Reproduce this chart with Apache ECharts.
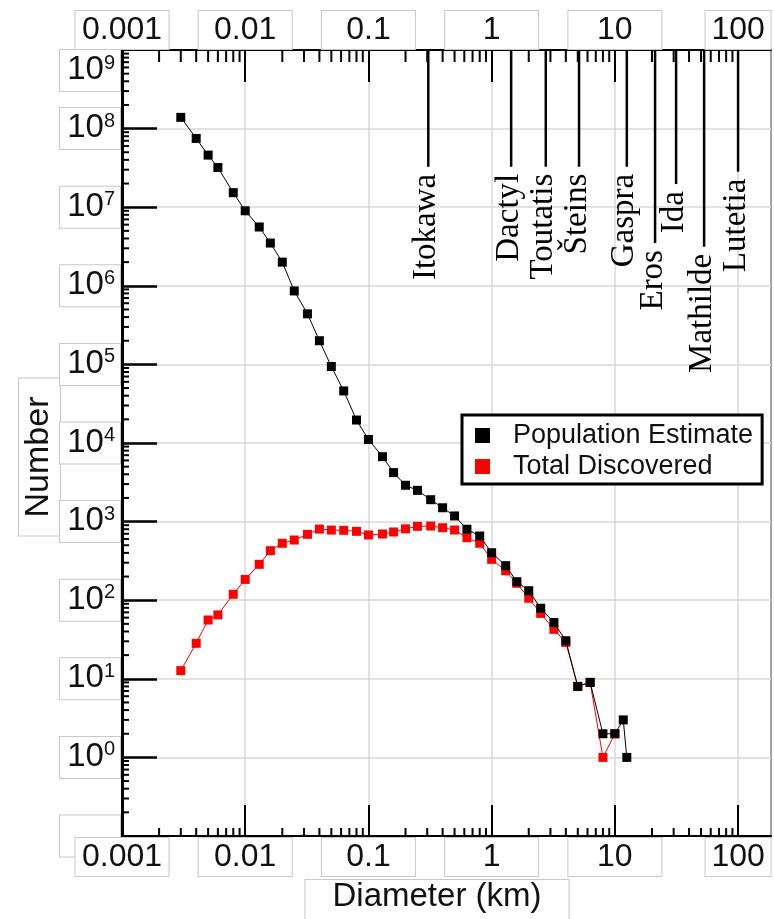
<!DOCTYPE html>
<html>
<head>
<meta charset="utf-8">
<script src="https://cdn.jsdelivr.net/npm/echarts@6/dist/echarts.min.js"></script>
<style>
html,body{margin:0;padding:0;background:#fff;}
#chart{width:774px;height:919px;}
</style>
</head>
<body>
<div id="chart"></div>
<script>
// ---- data ----
const popDiameters = [0.003, 0.004, 0.005, 0.006, 0.008, 0.01, 0.013, 0.016, 0.02, 0.025, 0.032, 0.04, 0.05, 0.063, 0.08, 0.1, 0.13, 0.16, 0.2, 0.25, 0.32, 0.4, 0.5, 0.63, 0.8, 1.0, 1.3, 1.6, 2.0, 2.5, 3.2, 4.0, 5.0, 6.3, 8.0, 10, 11.7, 12.5];
const populationEstimate = [1.39e8, 7.5e7, 4.6e7, 3.2e7, 1.53e7, 9.0e6, 5.6e6, 3.5e6, 2.0e6, 8.6e5, 4.4e5, 2.0e5, 9.4e4, 4.6e4, 1.96e4, 1.11e4, 6.7e3, 4.2e3, 2.9e3, 2.5e3, 1.9e3, 1.5e3, 1.18e3, 800, 656, 402, 275, 172, 132, 79, 52, 30.5, 8, 9, 2, 2, 3, 1];
const discDiameters = [0.003, 0.004, 0.005, 0.006, 0.008, 0.01, 0.013, 0.016, 0.02, 0.025, 0.032, 0.04, 0.05, 0.063, 0.08, 0.1, 0.13, 0.16, 0.2, 0.25, 0.32, 0.4, 0.5, 0.63, 0.8, 1.0, 1.3, 1.6, 2.0, 2.5, 3.2, 4.0, 5.0, 6.3, 8.0, 10];
const totalDiscovered = [12.7, 28.3, 56, 65, 119, 184, 286, 427, 530, 583, 689, 803, 780, 775, 752, 676, 695, 738, 809, 871, 879, 836, 782, 624, 530, 331, 237, 164, 106, 68, 42.6, 29, 8, 9, 1, 2];

const asteroidNames = ['Itokawa', 'Dactyl', 'Toutatis', 'Šteins', 'Gaspra', 'Eros', 'Ida', 'Mathilde', 'Lutetia'];
const asteroidDiameters = [0.306, 1.44, 2.75, 5.12, 12.5, 21.2, 31.4, 53, 100];
const asteroidLineEnd = [3.27e7, 3.27e7, 3.27e7, 3.27e7, 3.27e7, 3.5e6, 1.97e7, 3.14e6, 2.83e7];

const xTickLabels = ['0.001', '0.01', '0.1', '1', '10', '100'];
const yTickExponents = ['', '0', '1', '2', '3', '4', '5', '6', '7', '8', '9']; // 10^-1 .. 10^9
const minorMultipliers = [2, 3, 4, 5, 6, 7, 8, 9];

const X_MIN = 0.001, X_MAX = 185, Y_MIN = 0.1, Y_MAX = 1e9;
const SANS = '"Liberation Sans", Arial, sans-serif';
const SERIF = '"Liberation Serif", "Times New Roman", serif';
const BOXC = '#c8c8c8';

const chart = echarts.init(document.getElementById('chart'), null, {renderer: 'canvas'});

const xBox = {
  fontSize: 32, fontFamily: SANS, color: '#111', lineHeight: 34,
  backgroundColor: '#fff', borderColor: BOXC, borderWidth: 1,
  padding: [3, 14, 3, 14], align: 'center'
};
const xRich = {
  w: Object.assign({}, xBox, {width: 65}),
  n: Object.assign({}, xBox, {width: 37})
};
function xFmt(v) {
  const i = Math.round(Math.log10(v)) + 3;
  const t = xTickLabels[i];
  if (t === undefined) return '';
  return (i === 5 ? '{n|' : '{w|') + t + '}';
}
const yRich = {
  b: {fontSize: 33, fontFamily: SANS, color: '#111', lineHeight: 34},
  s: {fontSize: 20, fontFamily: SANS, color: '#111', lineHeight: 22, verticalAlign: 'top'}
};
const yLabelBox = {
  margin: 2, width: 49, padding: [3, 5, 4, 6], align: 'right',
  backgroundColor: '#fff', borderColor: BOXC, borderWidth: 1, rich: yRich
};
function yFmt(v) {
  const e = Math.round(Math.log10(v));
  const s = yTickExponents[e + 1];
  if (s === undefined) return '';
  if (s === '') return '{b| }';
  return '{b|10}{s|' + s + '}';
}

const option = {
  animation: false,
  backgroundColor: '#fff',
  grid: [
    {left: 122, right: 3, top: 50, bottom: 83, show: true, borderColor: '#000', borderWidth: 2,
      backgroundColor: 'transparent', outerBoundsMode: 'none', containLabel: false},
    {left: 122, right: 22, top: 78, bottom: 83, show: false, outerBoundsMode: 'none', containLabel: false}
  ],
  legend: {
    orient: 'vertical', left: 462, top: 415,
    icon: 'rect', itemWidth: 15, itemHeight: 15, itemGap: 4,
    padding: [7, 9, 4, 13],
    backgroundColor: '#fff', borderColor: '#000', borderWidth: 3,
    data: ['Population Estimate', 'Total Discovered'],
    formatter: n => '{t|' + n + '}',
    textStyle: {rich: {t: {fontSize: 27, fontFamily: SANS, color: '#111', lineHeight: 30, padding: [0, 0, 0, 18]}}}
  },
  xAxis: [
    {
      type: 'log', gridIndex: 0, position: 'bottom', min: X_MIN, max: X_MAX, z: 2,
      axisLine: {show: true, lineStyle: {color: '#000', width: 2}},
      axisTick: {show: true, inside: true, length: 31, lineStyle: {color: '#000', width: 2}},
      axisLabel: {margin: 4, showMaxLabel: false, formatter: xFmt, rich: xRich},
      splitLine: {show: true, lineStyle: {color: '#d9d9d9', width: 1.5}}
    },
    {
      type: 'log', gridIndex: 0, position: 'top', min: X_MIN, max: X_MAX, z: 2,
      axisLine: {show: true, lineStyle: {color: '#000', width: 2}},
      axisTick: {show: true, inside: true, length: 32, lineStyle: {color: '#000', width: 2}},
      axisLabel: {margin: 3, showMaxLabel: false, formatter: xFmt, rich: xRich},
      splitLine: {show: false}
    },
    {
      type: 'value', gridIndex: 1, position: 'bottom', min: 0, max: 1, z: 1,
      axisLine: {show: false}, axisTick: {show: false}, axisLabel: {show: false}, splitLine: {show: false},
      name: 'Diameter (km)', nameLocation: 'middle', nameGap: 44, nameMoveOverlap: false,
      nameTextStyle: {fontSize: 33, fontFamily: SANS, color: '#111', lineHeight: 34,
        backgroundColor: '#fff', borderColor: BOXC, borderWidth: 1, padding: [0, 27, 44, 27]}
    }
  ],
  yAxis: [
    {
      type: 'log', gridIndex: 0, position: 'left', min: Y_MIN, max: Y_MAX, z: 2,
      axisLine: {show: true, lineStyle: {color: '#000', width: 3}},
      axisTick: {show: true, inside: true, length: 35, lineStyle: {color: '#000', width: 2.5}},
      axisLabel: Object.assign({showMaxLabel: false, showMinLabel: true, formatter: yFmt}, yLabelBox),
      splitLine: {show: true, lineStyle: {color: '#d9d9d9', width: 1.5}}
    },
    {
      type: 'value', gridIndex: 1, position: 'left', min: 0, max: 1, z: 1,
      axisLine: {show: false}, axisTick: {show: false}, axisLabel: {show: false}, splitLine: {show: false},
      name: 'Number', nameLocation: 'middle', nameRotate: 90, nameGap: 62, nameMoveOverlap: false,
      nameTextStyle: {fontSize: 34, fontFamily: SANS, color: '#111', lineHeight: 34,
        backgroundColor: '#fff', borderColor: BOXC, borderWidth: 1, padding: [3, 18, 4, 18]}
    },
    {
      type: 'log', gridIndex: 0, position: 'left', min: 1e8, max: Y_MAX, z: 2,
      axisLine: {show: false}, axisTick: {show: false}, splitLine: {show: false},
      axisLabel: Object.assign({showMinLabel: false, showMaxLabel: true, verticalAlign: 'top', formatter: yFmt}, yLabelBox)
    }
  ],
  series: [
    {
      name: 'Total Discovered', type: 'line', xAxisIndex: 0, yAxisIndex: 0, z: 3,
      data: discDiameters.map((d, i) => [d, totalDiscovered[i]]),
      symbol: 'rect', symbolSize: 9, showAllSymbol: true,
      itemStyle: {color: '#ff0000'}, lineStyle: {color: '#ff0000', width: 1}
    },
    {
      name: 'Population Estimate', type: 'line', xAxisIndex: 0, yAxisIndex: 0, z: 4,
      data: popDiameters.map((d, i) => [d, populationEstimate[i]]),
      symbol: 'rect', symbolSize: 9, showAllSymbol: true,
      itemStyle: {color: '#000'}, lineStyle: {color: '#000', width: 1}
    },
    {
      type: 'custom', xAxisIndex: 0, yAxisIndex: 0, z: 3, silent: true, clip: false,
      data: asteroidDiameters.map((d, i) => [d, asteroidLineEnd[i]]),
      renderItem: function (params, api) {
        const d = api.value(0);
        const top = api.coord([d, Y_MAX]);
        const end = api.coord([d, api.value(1)]);
        return {
          type: 'group',
          children: [
            {type: 'line', shape: {x1: top[0], y1: top[1], x2: end[0], y2: end[1]},
              style: {stroke: '#000', lineWidth: 2.5}},
            {type: 'text', x: end[0] - 2, y: end[1] + 7, rotation: Math.PI / 2,
              style: {text: asteroidNames[params.dataIndex], fill: '#000', font: '33px ' + SERIF,
                align: 'right', verticalAlign: 'middle'}}
          ]
        };
      }
    },
    {
      type: 'custom', xAxisIndex: 0, yAxisIndex: 0, z: 5, silent: true, clip: false,
      data: [[X_MIN, Y_MIN]],
      renderItem: function (params, api) {
        const children = [];
        const bl = api.coord([X_MIN, Y_MIN]);
        const tr = api.coord([X_MAX, Y_MAX]);
        const st = {stroke: '#000', lineWidth: 2};
        for (let k = -3; k <= 2; k++) {
          minorMultipliers.forEach(m => {
            const v = m * Math.pow(10, k);
            if (v >= X_MAX) return;
            const x = api.coord([v, Y_MIN])[0];
            children.push({type: 'line', shape: {x1: x, y1: tr[1], x2: x, y2: tr[1] + 12}, style: st});
            children.push({type: 'line', shape: {x1: x, y1: bl[1], x2: x, y2: bl[1] - 8}, style: st});
          });
        }
        for (let k = -1; k <= 8; k++) {
          minorMultipliers.forEach(m => {
            const v = m * Math.pow(10, k);
            const y = api.coord([X_MIN, v])[1];
            children.push({type: 'line', shape: {x1: bl[0], y1: y, x2: bl[0] + 7, y2: y}, style: st});
          });
        }
        return {type: 'group', children: children};
      }
    }
  ]
};
chart.setOption(option);
</script>
</body>
</html>
